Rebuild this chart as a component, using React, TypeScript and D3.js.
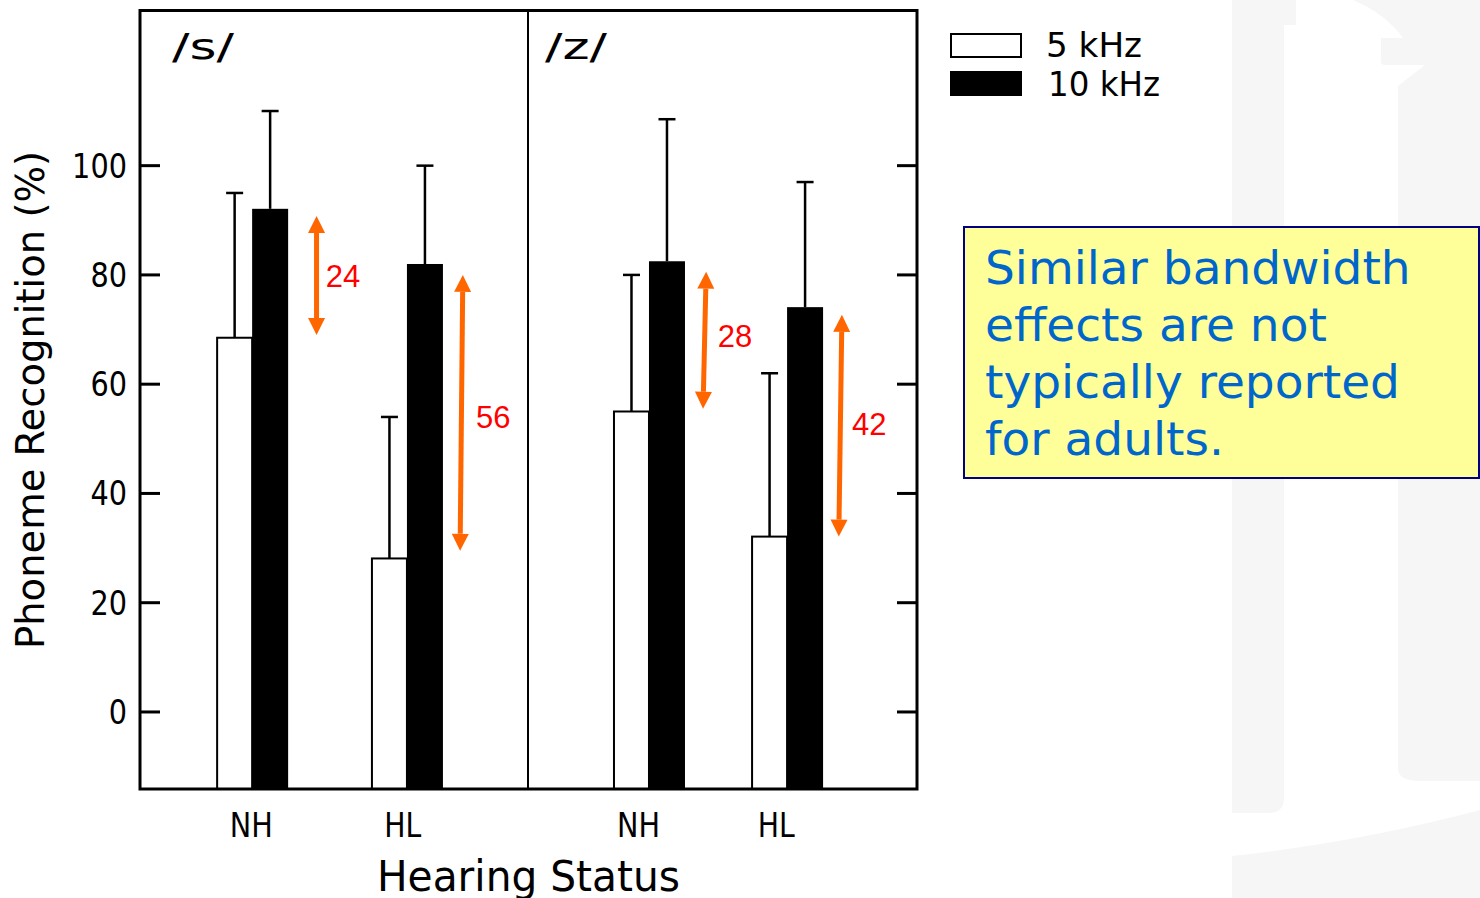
import React from "react";
import * as d3 from "d3";

// ---------- data ----------
const panels = ["/s/", "/z/"];
const groups = ["NH", "HL"];
const series = ["5 kHz", "10 kHz"];
// mean phoneme recognition (%) per panel, [NH, HL]
const s5k = [68.5, 28.1];
const s10k = [92.1, 82.0];
const z5k = [55.0, 32.1];
const z10k = [82.5, 74.1];
// upper end of the error bars
const s5kErr = [95.0, 54.0];
const s10kErr = [110.0, 100.0];
const z5kErr = [80.0, 62.0];
const z10kErr = [108.5, 97.0];
// group centres and label centres within each panel (0..1)
const groupPos = [[0.289, 0.688], [0.311, 0.666]];
const labelPos = [[0.287, 0.677], [0.284, 0.638]];
const yTicks = [0, 20, 40, 60, 80, 100];
// difference annotations
const diffLabels = ["24", "56", "28", "42"];
const diffPanel = [0, 0, 1, 1];
const diffXTop = [0.455, 0.832, 0.458, 0.807];
const diffXBottom = [0.455, 0.825, 0.45, 0.799];
const diffTop = [90.8, 80.0, 80.6, 72.7];
const diffBottom = [69.0, 29.5, 55.5, 32.1];
const diffLabelX = [0.479, 0.866, 0.488, 0.833];
const diffLabelY = [77.8, 52.0, 66.8, 50.7];
const noteLines = ["Similar bandwidth", "effects are not", "typically reported", "for adults."];

const means5k = [s5k, z5k];
const means10k = [s10k, z10k];
const err5k = [s5kErr, z5kErr];
const err10k = [s10kErr, z10kErr];

// ---------- layout ----------
const W = 1480;
const H = 898;
const plotL = 140;
const plotR = 917;
const plotT = 10.5;
const plotB = 789;
const divX = 528;
const barW = 35;
const capW = 17;
const strokeFont = "'DejaVu Sans', 'Liberation Sans', sans-serif";
const ORANGE = "#FF6600";

const y = d3.scaleLinear().domain([-14.1, 128.4]).range([plotB, plotT]);
const panelX = [
  d3.scaleLinear().domain([0, 1]).range([plotL, divX]),
  d3.scaleLinear().domain([0, 1]).range([divX, plotR]),
];

function arrowParts(x1: number, y1: number, x2: number, y2: number) {
  const dx = x2 - x1;
  const dy = y2 - y1;
  const len = Math.hypot(dx, dy);
  const ux = dx / len;
  const uy = dy / len;
  const px = -uy;
  const py = ux;
  const h = 17;
  const w = 8.5;
  const b1x = x1 + ux * h, b1y = y1 + uy * h;
  const b2x = x2 - ux * h, b2y = y2 - uy * h;
  const head1 = `M${x1},${y1}L${b1x + px * w},${b1y + py * w}L${b1x - px * w},${b1y - py * w}Z`;
  const head2 = `M${x2},${y2}L${b2x + px * w},${b2y + py * w}L${b2x - px * w},${b2y - py * w}Z`;
  return { head1, head2, line: [b1x, b1y, b2x, b2y] };
}

export default function App() {
  return (
    <svg
      width={W}
      height={H}
      viewBox={`0 0 ${W} ${H}`}
      style={{ position: "absolute", left: 0, top: 0, background: "#ffffff" }}
    >
      {/* faint watermark background */}
      <g fill="#F6F6F6">
        <path d="M1232,0H1296V25H1284V798Q1284,813 1268,813H1232Z" />
        <path d="M1353,0Q1386,14 1403,38H1381V62Q1381,65 1386,65H1425L1398,86V768Q1398,781 1420,781H1480V0Z" />
        <path d="M1232,856Q1360,842 1480,810V898H1232Z" />
      </g>

      {/* bars */}
      {panels.map((p, pi) =>
        groups.map((g, gi) => {
          const cx = panelX[pi](groupPos[pi][gi]);
          const v5 = means5k[pi][gi];
          const v10 = means10k[pi][gi];
          const e5 = err5k[pi][gi];
          const e10 = err10k[pi][gi];
          const c5 = cx - barW / 2;
          const c10 = cx + barW / 2 + 0.5;
          return (
            <g key={`${p}-${g}`}>
              <line x1={c5} x2={c5} y1={y(v5)} y2={y(e5)} stroke="#000" strokeWidth={2.5} />
              <line x1={c5 - capW / 2} x2={c5 + capW / 2} y1={y(e5)} y2={y(e5)} stroke="#000" strokeWidth={2.5} />
              <line x1={c10} x2={c10} y1={y(v10)} y2={y(e10)} stroke="#000" strokeWidth={2.5} />
              <line x1={c10 - capW / 2} x2={c10 + capW / 2} y1={y(e10)} y2={y(e10)} stroke="#000" strokeWidth={2.5} />
              <rect x={cx - barW} y={y(v5)} width={barW} height={plotB - y(v5)} fill="#fff" stroke="#000" strokeWidth={2} />
              <rect x={cx} y={y(v10)} width={barW + 1} height={plotB - y(v10)} fill="#000" />
            </g>
          );
        })
      )}

      {/* frame */}
      <rect x={plotL} y={plotT} width={plotR - plotL} height={plotB - plotT} fill="none" stroke="#000" strokeWidth={3} />
      <line x1={divX} x2={divX} y1={plotT} y2={plotB} stroke="#000" strokeWidth={2} />

      {/* y ticks */}
      {yTicks.map((t) => (
        <g key={t}>
          <line x1={plotL} x2={plotL + 20} y1={y(t)} y2={y(t)} stroke="#000" strokeWidth={3} />
          <line x1={plotR - 20} x2={plotR} y1={y(t)} y2={y(t)} stroke="#000" strokeWidth={3} />
          <text
            x={127}
            y={y(t) + 12}
            textAnchor="end"
            fontFamily={strokeFont}
            fontSize={33}
            textLength={String(t).length * 18.3}
            lengthAdjust="spacingAndGlyphs"
          >
            {t}
          </text>
        </g>
      ))}

      {/* y title */}
      <text
        transform={`translate(44,400) rotate(-90)`}
        textAnchor="middle"
        fontFamily={strokeFont}
        fontSize={39}
        textLength={498}
        lengthAdjust="spacingAndGlyphs"
      >
        Phoneme Recognition (%)
      </text>

      {/* panel labels */}
      {panels.map((p, pi) => (
        <text
          key={p}
          x={panelX[pi](0) + (pi === 0 ? 32 : 17)}
          y={59}
          fontFamily={strokeFont}
          fontSize={36}
          textLength={62}
          lengthAdjust="spacingAndGlyphs"
        >
          {p}
        </text>
      ))}

      {/* x labels */}
      {panels.map((p, pi) =>
        groups.map((g, gi) => (
          <text
            key={`${p}-lab-${g}`}
            x={panelX[pi](labelPos[pi][gi])}
            y={837}
            textAnchor="middle"
            fontFamily={strokeFont}
            fontSize={33}
            textLength={g === "NH" ? 43 : 37}
            lengthAdjust="spacingAndGlyphs"
          >
            {g}
          </text>
        ))
      )}
      <text
        x={(plotL + plotR) / 2}
        y={891}
        textAnchor="middle"
        fontFamily={strokeFont}
        fontSize={42}
        textLength={303}
        lengthAdjust="spacingAndGlyphs"
      >
        Hearing Status
      </text>

      {/* difference arrows */}
      {diffLabels.map((lab, i) => {
        const sx = panelX[diffPanel[i]];
        const x1 = sx(diffXTop[i]);
        const y1 = y(diffTop[i]);
        const x2 = sx(diffXBottom[i]);
        const y2 = y(diffBottom[i]);
        const a = arrowParts(x1, y1, x2, y2);
        return (
          <g key={lab}>
            <line x1={a.line[0]} y1={a.line[1]} x2={a.line[2]} y2={a.line[3]} stroke={ORANGE} strokeWidth={5} />
            <path d={a.head1} fill={ORANGE} />
            <path d={a.head2} fill={ORANGE} />
            <text
              x={sx(diffLabelX[i])}
              y={y(diffLabelY[i])}
              fill="#FF0000"
              fontFamily="'Liberation Sans', Arial, sans-serif"
              fontSize={31}
            >
              {lab}
            </text>
          </g>
        );
      })}

      {/* legend */}
      <rect x={951} y={34} width={70} height={23} fill="#fff" stroke="#000" strokeWidth={2} />
      <rect x={950} y={71} width={72} height={25} fill="#000" />
      <text x={1046} y={57} fontFamily={strokeFont} fontSize={33} textLength={96} lengthAdjust="spacingAndGlyphs">
        {series[0]}
      </text>
      <text x={1048} y={96} fontFamily={strokeFont} fontSize={33} textLength={112} lengthAdjust="spacingAndGlyphs">
        {series[1]}
      </text>

      {/* note box */}
      <rect x={964} y={227} width={515} height={251} fill="#FFFF99" stroke="#000080" strokeWidth={2} />
      {noteLines.map((l, i) => (
        <text
          key={l}
          x={985}
          y={284 + i * 57}
          fill="#0066CC"
          fontFamily="'DejaVu Sans', Verdana, sans-serif"
          fontSize={47}
        >
          {l}
        </text>
      ))}
    </svg>
  );
}
